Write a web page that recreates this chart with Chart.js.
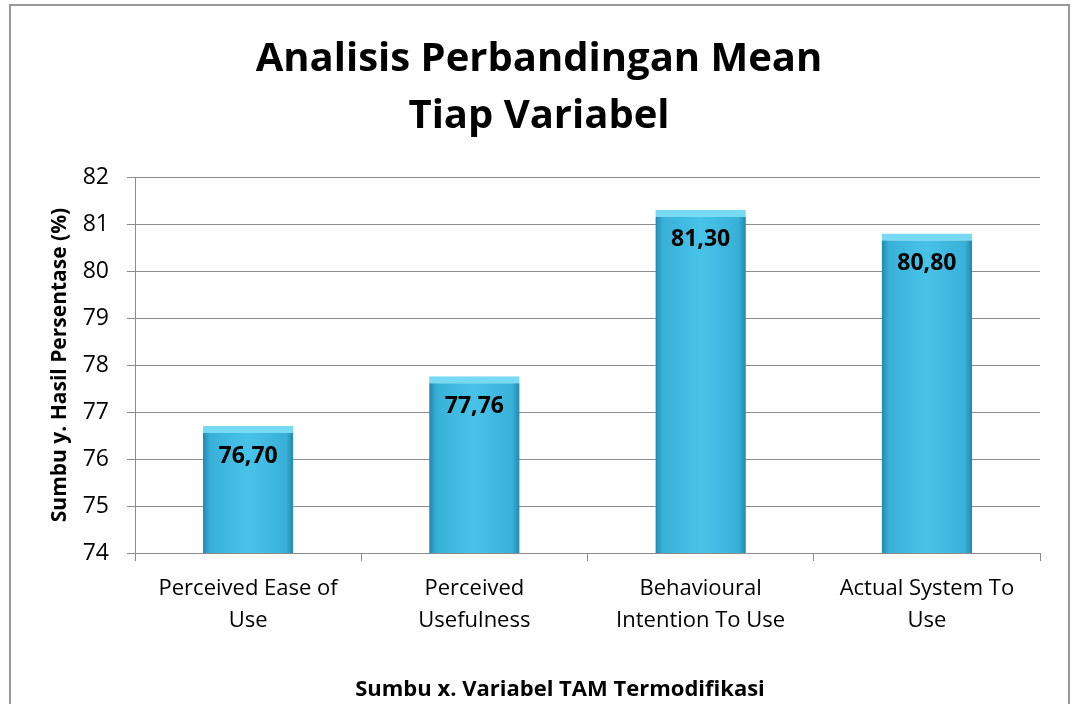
<!DOCTYPE html>
<html>
<head>
<meta charset="utf-8">
<script src="https://cdn.jsdelivr.net/npm/chart.js@4"></script>
<style>
  html, body { margin: 0; padding: 0; background: #fff; overflow: hidden; }
  #wrap { position: relative; width: 1072px; height: 704px; }
  #frame { position: absolute; left: 9px; top: 4px; width: 1057px; height: 800px;
           border: 2px solid #979797; pointer-events: none; }
</style>
</head>
<body>
<div id="wrap">
  <canvas id="myChart" width="1072" height="704"></canvas>
  <div id="frame"></div>
</div>
<script>
// data
const categories = [
    ["Perceived Ease of", "Use"],
    ["Perceived", "Usefulness"],
    ["Behavioural", "Intention To Use"],
    ["Actual System To", "Use"]
];
const meanValues = [76.70, 77.76, 81.30, 80.80];
const titleLines = ["Analisis Perbandingan Mean", "Tiap Variabel"];
const yTitle = "Sumbu y. Hasil Persentase (%)";
const xTitle = "Sumbu x. Variabel TAM Termodifikasi";

const FONT = "'Open Sans', sans-serif";
const BAR_PCT = 0.40;

function formatValue(v) {
    return v.toFixed(2).replace(".", ",");
}

// left-to-right shading for each bar (scriptable so every bar gets its own)
function barFill(c) {
    let chart = c.chart;
    let xs = chart.scales.x;
    if (!chart.chartArea || !xs) {
        return "#40bde3";
    }
    let cx = xs.getPixelForValue(c.dataIndex);
    let w = (xs.width / categories.length) * BAR_PCT;
    let g = chart.ctx.createLinearGradient(cx - w / 2, 0, cx + w / 2, 0);
    g.addColorStop(0, "#2288ad");
    g.addColorStop(0.08, "#38b0d8");
    g.addColorStop(0.5, "#48c3e8");
    g.addColorStop(0.92, "#38b0d8");
    g.addColorStop(1, "#2288ad");
    return g;
}

// value labels inside the top of each bar, plus the x axis title
const valueLabels = {
    id: "valueLabels",
    afterDatasetsDraw(chart) {
        const ctx = chart.ctx;
        ctx.save();
        ctx.fillStyle = "#000";
        ctx.font = "bold 23px " + FONT;
        ctx.textAlign = "center";
        ctx.textBaseline = "middle";
        chart.getDatasetMeta(0).data.forEach(function (bar, i) {
            ctx.fillText(formatValue(meanValues[i]), bar.x, bar.y + 30);
        });
        ctx.font = "bold 22px " + FONT;
        ctx.fillText(xTitle, 560, 690);
        ctx.restore();
    }
};

var ctx = document.getElementById("myChart").getContext("2d");
var myChart = new Chart(ctx, {
    type: "bar",
    data: {
        labels: categories,
        datasets: [{
            data: meanValues,
            backgroundColor: barFill,
            borderColor: "#78d9f2",
            borderWidth: { top: 7, left: 0, right: 0, bottom: 0 },
            borderSkipped: false,
            categoryPercentage: 1.0,
            barPercentage: BAR_PCT
        }]
    },
    options: {
        responsive: false,
        animation: false,
        events: [],
        layout: {
            padding: { left: 38, right: 32, top: 0, bottom: 0 }
        },
        plugins: {
            legend: { display: false },
            tooltip: { enabled: false },
            title: {
                display: true,
                text: titleLines,
                color: "#000",
                font: { family: FONT, size: 40, weight: "bold", lineHeight: 1.425 },
                padding: { top: 31, bottom: 32 }
            }
        },
        scales: {
            x: {
                offset: true,
                afterFit: function (scale) { scale.height = 151; },
                grid: {
                    offset: true,
                    drawOnChartArea: false,
                    drawTicks: true,
                    tickLength: 8,
                    color: "#8c8c8c"
                },
                border: { display: true, color: "#8c8c8c", width: 1 },
                ticks: {
                    color: "#000",
                    padding: 12,
                    maxRotation: 0,
                    font: { family: FONT, size: 22, lineHeight: 1.45 }
                }
            },
            y: {
                min: 74,
                max: 82,
                afterFit: function (scale) { scale.width = 97; },
                grid: {
                    color: "#8c8c8c",
                    lineWidth: 1,
                    tickLength: 8
                },
                border: { display: true, color: "#8c8c8c", width: 1 },
                ticks: {
                    stepSize: 1,
                    color: "#000",
                    padding: 18,
                    font: { family: FONT, size: 23 }
                },
                title: {
                    display: true,
                    text: yTitle,
                    color: "#000",
                    font: { family: FONT, size: 21, weight: "bold" },
                    padding: { top: 9, bottom: 0 }
                }
            }
        }
    },
    plugins: [valueLabels]
});
</script>
</body>
</html>
